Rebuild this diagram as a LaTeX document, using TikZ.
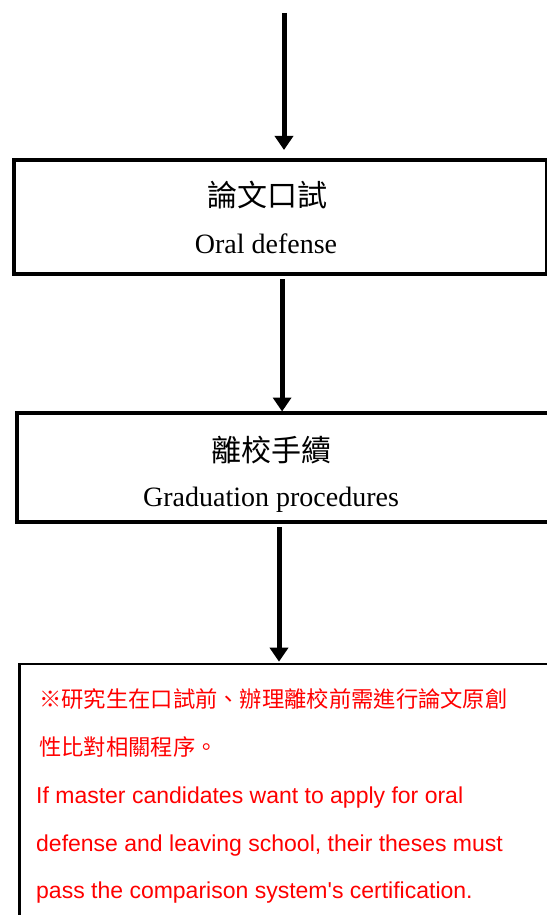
\documentclass[tikz,border=0pt]{standalone}
\usepackage{fontspec}
\setmainfont{Liberation Serif}
\setsansfont{Liberation Sans}
\newfontfamily\cjk{Noto Sans CJK TC}
\usetikzlibrary{arrows.meta}

\begin{document}
\begin{tikzpicture}[x=1pt,y=-1pt,
   frame/.style={draw, line width=4pt, inner sep=0pt, outer sep=0pt},
   flow/.style={line width=5pt, -{Triangle[width=18pt,length=14pt]}},
   zh/.style={anchor=base, inner sep=0pt, font=\cjk\fontsize{30}{36}\selectfont},
   en/.style={anchor=base, inner sep=0pt, font=\fontsize{28}{34}\selectfont},
   notezh/.style={anchor=base west, inner sep=0pt, text=red, font=\cjk\fontsize{22.3}{27}\selectfont},
   noteen/.style={anchor=base west, inner sep=0pt, text=red, font=\sffamily\fontsize{23}{28}\selectfont}]
   \useasboundingbox (0,0) rectangle (546,915);
   % boxes
   \node[frame, minimum width=532.8pt, minimum height=114.5pt] (oral) at (280.1,216.75) {};
   \node[frame, minimum width=543pt, minimum height=109pt] (leave) at (288.5,467) {};
   \node[frame, line width=2.5pt, minimum width=540.5pt, minimum height=296pt] (note) at (289.75,812) {};
   % texts
   \node[zh] (oralzh) at (267.5,206.4) {論文口試};
   \node[en] (oralen) at (266,253) {Oral defense};
   \node[zh] (leavezh) at (271,461.4) {離校手續};
   \node[en] (leaveen) at (271,506) {Graduation procedures};
   \node[notezh] (note1) at (39,707) {※研究生在口試前、辦理離校前需進行論文原創};
   \node[notezh] (note2) at (39,755) {性比對相關程序。};
   \node[noteen] (note3) at (36,803) {If master candidates want to apply for oral};
   \node[noteen] (note4) at (36,851) {defense and leaving school, their theses must};
   \node[noteen] (note5) at (36,898) {pass the comparison system\textquotesingle s certification.};
   % arrows
   \coordinate (start) at (284,13);
   \coordinate (out1) at ([xshift=2pt]oral.south);
   \coordinate (out2) at ([xshift=-9.5pt]leave.south);
   \draw[flow, shorten >=9.5pt] (start) -- (start |- oral.north);
   \draw[flow, shorten <=5pt, shorten >=1pt] (out1) -- (out1 |- leave.north);
   \draw[flow, shorten <=5.5pt, shorten >=2.3pt] (out2) -- (out2 |- note.north);
\end{tikzpicture}
\end{document}
